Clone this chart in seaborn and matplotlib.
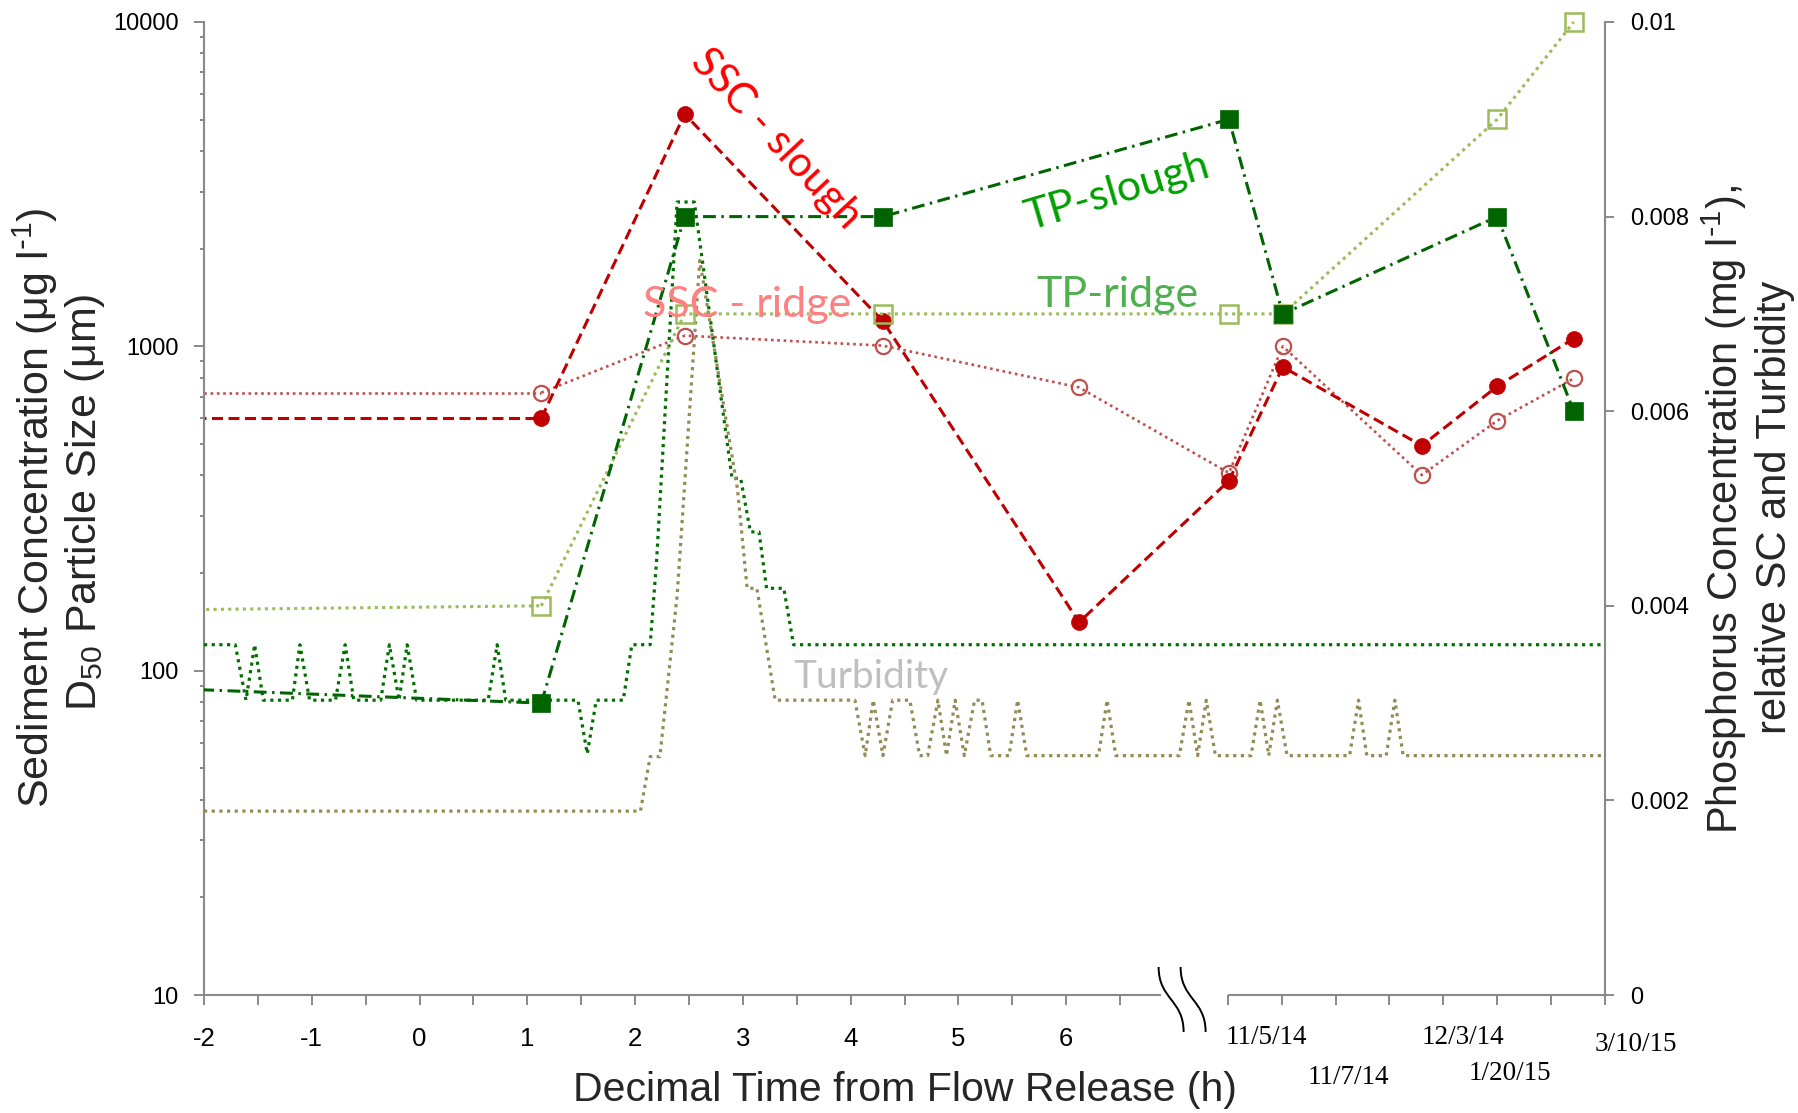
import matplotlib
matplotlib.use("Agg")
import matplotlib.pyplot as plt
import seaborn as sns
import numpy as np
import pandas as pd
from matplotlib.path import Path
from matplotlib.patches import PathPatch
import matplotlib.transforms as mtransforms
from matplotlib.ticker import FixedLocator, FixedFormatter, LogLocator, NullFormatter

# ---------------- data ----------------
# discrete samples; the first entry lies left of the plotted window
sample_time = [-3.0, 1.13, 2.46, 4.30, 6.12, 7.51, 8.01, 9.30, 10.00, 10.71]
ssc_slough = [600, 600, 5200, 1195, 141, 385, 864, 494, 753, 1057]
ssc_ridge = [720, 720, 1079, 1005, 747, 407, 1000, 401, 590, 796]

tp_time = [-3.0, 1.13, 2.46, 4.30, 7.51, 8.01, 10.00, 10.71]
tp_slough = [0.00318, 0.00300, 0.00800, 0.00800, 0.00900, 0.00700, 0.00800, 0.00600]
tp_ridge = [0.00395, 0.00400, 0.00700, 0.00700, 0.00700, 0.00700, 0.00900, 0.01000]

# continuous records (relative SC and turbidity, right axis units)
sc_time = [-2.00, -1.71, -1.61, -1.53, -1.45, -1.18, -1.11, -1.02, -0.78, -0.69,
           -0.61, -0.36, -0.28, -0.19, -0.115, -0.027, 0.637, 0.72, 0.80, 1.47,
           1.556, 1.64, 1.89, 1.97, 2.14, 2.20, 2.39, 2.55, 2.90, 2.98,
           3.07, 3.15, 3.22, 3.38, 3.47, 11.0]
sc_rel = [0.0036, 0.0036, 0.00303, 0.0036, 0.00303, 0.00303, 0.0036, 0.00303, 0.00303, 0.0036,
          0.00303, 0.00303, 0.0036, 0.00303, 0.0036, 0.00303, 0.00303, 0.0036, 0.00303, 0.00303,
          0.00248, 0.00303, 0.00303, 0.0036, 0.0036, 0.00447, 0.00815, 0.00815, 0.00531, 0.00531,
          0.00476, 0.00476, 0.00418, 0.00418, 0.0036, 0.0036]

turb_time = [-2.00, 2.05, 2.14, 2.23, 2.39, 2.60, 2.95, 3.04, 3.13, 3.30,
             4.04, 4.135, 4.21, 4.30, 4.39, 4.55, 4.64, 4.715, 4.81, 4.89,
             4.97, 5.055, 5.15, 5.22, 5.30, 5.47, 5.55, 5.635, 6.30, 6.38,
             6.46, 7.05, 7.14, 7.22, 7.30, 7.385, 7.716, 7.80, 7.88, 7.96,
             8.05, 8.63, 8.713, 8.79, 8.97, 9.05, 9.127, 11.0]
turb_rel = [0.00189, 0.00189, 0.00245, 0.00245, 0.0041, 0.00755, 0.0052, 0.00418, 0.00418, 0.00303,
            0.00303, 0.00246, 0.00303, 0.00246, 0.00303, 0.00303, 0.00246, 0.00246, 0.00303, 0.00246,
            0.00303, 0.00246, 0.00303, 0.00303, 0.00246, 0.00246, 0.00303, 0.00246, 0.00246, 0.00303,
            0.00246, 0.00246, 0.00303, 0.00246, 0.00303, 0.00246, 0.00246, 0.00303, 0.00246, 0.00303,
            0.00246, 0.00246, 0.00303, 0.00246, 0.00246, 0.00303, 0.00246, 0.00246]

x_ticks = [-2, -1.5, -1, -0.5, 0, 0.5, 1, 1.5, 2, 2.5, 3, 3.5, 4, 4.5, 5, 5.5, 6, 6.5,
           7.5, 8, 8.5, 9, 9.5, 10, 10.5, 11]
x_tick_labels = ['-2', '', '-1', '', '0', '', '1', '', '2', '', '3', '', '4', '', '5', '', '6', '',
                 '', '', '', '', '', '', '', '']
left_ticks = [10, 100, 1000, 10000]
left_tick_labels = ['10', '100', '1000', '10000']
right_ticks = [0, 0.002, 0.004, 0.006, 0.008, 0.01]
right_tick_labels = ['0', '0.002', '0.004', '0.006', '0.008', '0.01']

date_labels = ['11/5/14', '11/7/14', '12/3/14', '1/20/15', '3/10/15']
date_label_x = [7.48, 8.24, 9.30, 9.73, 10.90]
date_label_y = [-0.0432, -0.0843, -0.0432, -0.0802, -0.0504]

series_labels = ['SSC - slough', 'TP-slough', 'SSC - ridge', 'TP-ridge', 'Turbidity']

# ---------------- styling ----------------
sns.set_theme(style="white")
plt.rcParams['font.family'] = ['Liberation Sans', 'DejaVu Sans']
plt.rcParams['mathtext.default'] = 'regular'

SPINE = '#898989'
C_SSC_S = '#C00000'
C_SSC_R = '#C0504D'
C_TP_S = '#006400'
C_TP_R = '#9BBB59'
C_SC = '#007000'
C_TURB = '#948A54'

W, H = 1799, 1113
fig = plt.figure(figsize=(W / 100, H / 100), dpi=100)
fig.patch.set_facecolor('white')
ax = fig.add_axes([204 / W, (H - 995) / H, 1401 / W, 973 / H])
ax2 = ax.twinx()
ax.set_facecolor('none')

ax.set_yscale('log')
ax.set_xlim(-2, 11)
ax.set_ylim(10, 10000)
ax2.set_ylim(0, 0.01)

dotted = (0, (1.0, 1.4))

# continuous records on the right axis
sns.lineplot(x=sc_time, y=sc_rel, ax=ax2, color=C_SC, linewidth=2.3, linestyle=dotted,
             sort=False, estimator=None, errorbar=None)
sns.lineplot(x=turb_time, y=turb_rel, ax=ax2, color=C_TURB, linewidth=2.3, linestyle=dotted,
             sort=False, estimator=None, errorbar=None)

# SSC on left (log) axis
sns.lineplot(x=sample_time[:2], y=ssc_ridge[:2], ax=ax, color=C_SSC_R, linewidth=1.9,
             linestyle=dotted, sort=False, estimator=None, errorbar=None)
sns.lineplot(x=sample_time[1:], y=ssc_ridge[1:], ax=ax, color=C_SSC_R, linewidth=1.9,
             linestyle=dotted, marker='o', markersize=11, markerfacecolor='none',
             markeredgecolor=C_SSC_R, markeredgewidth=1.6, clip_on=False,
             sort=False, estimator=None, errorbar=None)
sns.lineplot(x=sample_time[:2], y=ssc_slough[:2], ax=ax, color=C_SSC_S, linewidth=2.2,
             linestyle=(0, (3.6, 1.8)), sort=False, estimator=None, errorbar=None)
sns.lineplot(x=sample_time[1:], y=ssc_slough[1:], ax=ax, color=C_SSC_S, linewidth=2.2,
             linestyle=(0, (3.6, 1.8)), marker='o', markersize=11.5,
             markerfacecolor=C_SSC_S, markeredgecolor=C_SSC_S, markeredgewidth=0.5,
             clip_on=False, sort=False, estimator=None, errorbar=None)

# TP on right axis
sns.lineplot(x=tp_time[:2], y=tp_ridge[:2], ax=ax2, color=C_TP_R, linewidth=2.2,
             linestyle=dotted, sort=False, estimator=None, errorbar=None)
sns.lineplot(x=tp_time[1:], y=tp_ridge[1:], ax=ax2, color=C_TP_R, linewidth=2.2,
             linestyle=dotted, marker='s', markersize=13, markerfacecolor='none',
             markeredgecolor=C_TP_R, markeredgewidth=1.8, clip_on=False,
             sort=False, estimator=None, errorbar=None)
sns.lineplot(x=tp_time[:2], y=tp_slough[:2], ax=ax2, color=C_TP_S, linewidth=2.2,
             linestyle=(0, (4.2, 1.8, 0.8, 1.8)), sort=False, estimator=None, errorbar=None)
sns.lineplot(x=tp_time[1:], y=tp_slough[1:], ax=ax2, color=C_TP_S, linewidth=2.2,
             linestyle=(0, (4.2, 1.8, 0.8, 1.8)), marker='s', markersize=13,
             markerfacecolor=C_TP_S, markeredgecolor=C_TP_S, markeredgewidth=0.5,
             clip_on=False, sort=False, estimator=None, errorbar=None)

# ---------------- axes cosmetics ----------------
for a in (ax, ax2):
    a.spines['top'].set_visible(False)
    a.set_xlabel('')
    a.set_ylabel('')
ax.spines['right'].set_visible(False)
ax2.spines['left'].set_visible(False)
ax2.spines['bottom'].set_visible(False)
for s in ('left', 'bottom'):
    ax.spines[s].set_color(SPINE)
    ax.spines[s].set_linewidth(1.5)
ax2.spines['right'].set_color(SPINE)
ax2.spines['right'].set_linewidth(1.5)
ax.spines['bottom'].set_bounds(-2, 6.87)
# second piece of the broken time axis
ax.plot([7.5, 11], [0, 0], transform=ax.get_xaxis_transform(), color=SPINE, lw=1.5,
        clip_on=False, solid_capstyle='butt')

ax.xaxis.set_major_locator(FixedLocator(x_ticks))
ax.xaxis.set_major_formatter(FixedFormatter(x_tick_labels))
ax.yaxis.set_major_locator(FixedLocator(left_ticks))
ax.yaxis.set_major_formatter(FixedFormatter(left_tick_labels))
ax.yaxis.set_minor_locator(LogLocator(base=10, subs=np.arange(2, 10)))
ax.yaxis.set_minor_formatter(NullFormatter())
ax2.yaxis.set_major_locator(FixedLocator(right_ticks))
ax2.yaxis.set_major_formatter(FixedFormatter(right_tick_labels))

ax.tick_params(axis='x', which='major', direction='out', length=7.2, width=1.4, color=SPINE,
               labelsize=18.5, pad=16, bottom=True, labelcolor='black')
ax.tick_params(axis='y', which='major', direction='out', length=7, width=1.4, color=SPINE,
               labelsize=17, pad=11, left=True, labelcolor='black')
ax.tick_params(axis='y', which='minor', direction='out', length=3.2, width=1.4, color=SPINE,
               left=True)
ax2.tick_params(axis='y', which='major', direction='out', length=6.5, width=1.4, color=SPINE,
                labelsize=17, pad=11.3, right=True, labelcolor='black')
ax2.tick_params(axis='y', which='minor', right=False)
ax2.tick_params(axis='x', bottom=False, labelbottom=False)

# axis break marks
btr = mtransforms.blended_transform_factory(ax.transData, ax.transAxes)
for x0, x1 in [(6.858, 7.09), (7.062, 7.294)]:
    yt, yb = 0.0288, -0.038
    ym = (yt + yb) / 2
    p = Path([(x0, yt), (x0, ym), (x1, ym), (x1, yb)],
             [Path.MOVETO, Path.CURVE4, Path.CURVE4, Path.CURVE4])
    ax.add_patch(PathPatch(p, transform=btr, facecolor='none', edgecolor='black', lw=1.4,
                           clip_on=False))

# date labels on the second piece of the axis
for lab, xx, yy in zip(date_labels, date_label_x, date_label_y):
    ax.text(xx, yy, lab, transform=btr, ha='left', va='center', fontsize=19.5,
            family=['Liberation Serif', 'DejaVu Serif'], color='black')

# series labels
lab_font = ['Lato', 'DejaVu Sans']
ax2.text(3.308, 0.008797, series_labels[0], color='#FF0000', fontsize=30, rotation=-47,
         ha='center', va='center', family=lab_font, zorder=10)
ax2.text(6.474, 0.008256, series_labels[1], color='#00A000', fontsize=31, rotation=16.5,
         ha='center', va='center', family=lab_font, zorder=10)
ax2.text(3.039, 0.006971, series_labels[2], color='#FF8080', fontsize=31,
         ha='center', va='baseline', family=lab_font, zorder=10)
ax2.text(6.474, 0.00707, series_labels[3], color='#50B050', fontsize=31,
         ha='center', va='baseline', family=lab_font, zorder=10)
ax2.text(4.184, 0.003152, series_labels[4], color='#BFBFBF', fontsize=28,
         ha='center', va='baseline', family=lab_font, zorder=10)

# axis titles
fig.text(49 / W, 1 - 508 / H, r'Sediment Concentration (μg l$^{\text{-}1}$)', rotation=90,
         ha='center', va='baseline', rotation_mode='anchor', fontsize=31)
fig.text(96 / W, 1 - 502 / H, 'D$_{50}$ Particle Size (μm)', rotation=90,
         ha='center', va='baseline', rotation_mode='anchor', fontsize=31)
fig.text(1738 / W, 1 - 510 / H, r'Phosphorus Concentration (mg l$^{\text{-}1}$),', rotation=90,
         ha='center', va='baseline', rotation_mode='anchor', fontsize=30)
fig.text(1786 / W, 1 - 507 / H, 'relative SC and Turbidity', rotation=90,
         ha='center', va='baseline', rotation_mode='anchor', fontsize=30)
fig.text(904.5 / W, 1 - 1101 / H, 'Decimal Time from Flow Release (h)',
         ha='center', va='baseline', fontsize=29.5)

fig.savefig('out.png', dpi=100, facecolor='white')
